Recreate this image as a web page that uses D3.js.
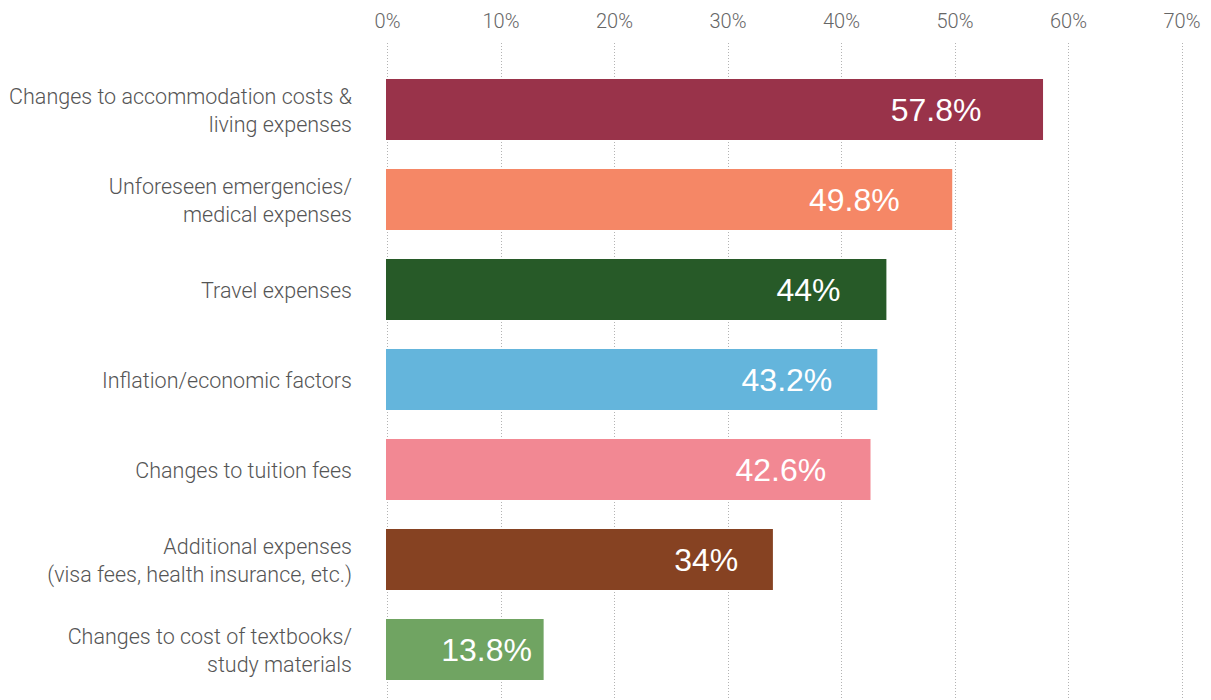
<!DOCTYPE html>
<html>
<head>
<meta charset="utf-8">
<script src="https://cdn.jsdelivr.net/npm/d3@7"></script>
<style>
  html, body { margin: 0; padding: 0; background: #ffffff; }
  svg { display: block; }
</style>
</head>
<body>
<svg id="chart" width="1211" height="700"></svg>
<script>
// Categories (each line of a label is its own entry)
const categories = [
  ["Changes to accommodation costs &", "living expenses"],
  ["Unforeseen emergencies/", "medical expenses"],
  ["Travel expenses"],
  ["Inflation/economic factors"],
  ["Changes to tuition fees"],
  ["Additional expenses", "(visa fees, health insurance, etc.)"],
  ["Changes to cost of textbooks/", "study materials"]
];
// Share of respondents, percent
const values = [57.8, 49.8, 44, 43.2, 42.6, 34, 13.8];
const valueLabels = ["57.8%", "49.8%", "44%", "43.2%", "42.6%", "34%", "13.8%"];
const barColors = ["#99334a", "#f58766", "#275a28", "#64b5dc", "#f28893", "#864222", "#70a462"];
const tickValues = [0, 10, 20, 30, 40, 50, 60, 70];

const svg = d3.select("#chart");
const keys = categories.map((c, i) => String(i));

const x = d3.scaleLinear().domain([0, 70]).range([387, 1181.5]);
const y = d3.scaleBand().domain(keys).range([50, 709]).padding(29 / 90);

// Dotted vertical gridlines
svg.append("g")
  .selectAll("line")
  .data(tickValues)
  .join("line")
  .attr("x1", d => Math.round(x(d)) + 0.5)
  .attr("x2", d => Math.round(x(d)) + 0.5)
  .attr("y1", 43)
  .attr("y2", 700)
  .attr("stroke", "#b3b3b3")
  .attr("stroke-width", 1)
  .attr("stroke-dasharray", "1,2");

// Top axis tick labels
const axis = d3.axisTop(x)
  .tickValues(tickValues)
  .tickFormat(d => d + "%")
  .tickSize(0)
  .tickPadding(0);
const axisG = svg.append("g").attr("transform", "translate(0,28)").call(axis);
axisG.select(".domain").remove();
axisG.selectAll("text")
  .attr("fill", "#666666")
  .style("font-family", "Roboto, 'Liberation Sans', Arial, sans-serif")
  .style("font-weight", "300")
  .style("font-size", "20px");

// Bars
svg.append("g")
  .selectAll("rect")
  .data(values)
  .join("rect")
  .attr("x", x(0) - 1)
  .attr("y", (d, i) => y(keys[i]))
  .attr("width", d => x(d) - x(0) + 1)
  .attr("height", y.bandwidth())
  .attr("fill", (d, i) => barColors[i]);

// Value labels inside bars
svg.append("g")
  .selectAll("text")
  .data(values)
  .join("text")
  .attr("x", d => x(d * 0.9) + 4)
  .attr("y", (d, i) => y(keys[i]) + y.bandwidth() / 2)
  .attr("dy", "0.36em")
  .attr("text-anchor", "end")
  .attr("fill", "#ffffff")
  .style("font-family", "'Liberation Sans', Arial, sans-serif")
  .style("font-size", "32px")
  .text((d, i) => valueLabels[i]);

// Category labels, right-aligned left of the bars
const lineH = 28;
const catG = svg.append("g")
  .selectAll("text")
  .data(categories)
  .join("text")
  .attr("text-anchor", "end")
  .attr("fill", "#555555")
  .style("font-family", "Roboto, 'Liberation Sans', Arial, sans-serif")
  .style("font-weight", "300")
  .style("font-size", "21.5px");

catG.each(function (lines, i) {
  const cy = y(keys[i]) + y.bandwidth() / 2 + 1;
  const top = cy - (lines.length - 1) * lineH / 2;
  d3.select(this).selectAll("tspan")
    .data(lines)
    .join("tspan")
    .attr("x", x(0) - 35)
    .attr("y", (l, j) => top + j * lineH)
    .attr("dy", "0.35em")
    .text(l => l);
});
</script>
</body>
</html>
